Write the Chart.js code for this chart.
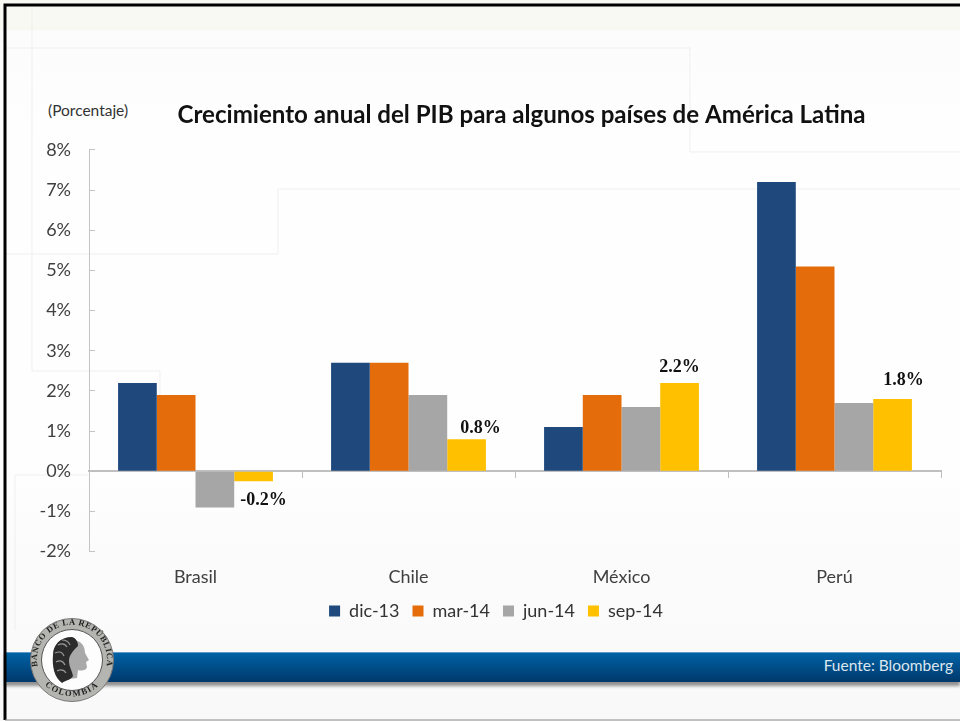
<!DOCTYPE html>
<html><head><meta charset="utf-8">
<script src="https://cdn.jsdelivr.net/npm/chart.js@4"></script>
<style>
html,body{margin:0;padding:0;background:#fff}
#page{position:relative;width:960px;height:721px;overflow:hidden;background:linear-gradient(#f9f9f4 0,#f9f9f4 30px,#fcfcfc 31px,#fefefe 140px,#fefefe 470px,#fbfbfb 560px,#f9f9f9 721px)}
#deco,#logo,#frame{position:absolute;left:0;top:0}
#chartBox{position:absolute;left:0;top:0;width:960px;height:721px}
#banner{position:absolute;left:5px;right:0;top:652px;height:30px;background:linear-gradient(#0062a5,#00386b);border-top:1px solid #5b9bc9;box-sizing:border-box;box-shadow:0 4px 3px rgba(60,60,60,.55)}
#src{position:absolute;right:7px;top:656px;font:15.5px Lato,sans-serif;color:#dbe7f0}
#unit{position:absolute;left:48px;top:101px;font:15.5px Lato,sans-serif;color:#333}
</style></head><body>
<div id="page">
<svg id="deco" width="960" height="721" fill="none" stroke="#efefef" stroke-width="1">
<path d="M5 48H690V152H960M32 5V371H160V470M5 254H278V189H960M15 630V475H89"/>
</svg>
<div id="banner"></div>
<div id="src">Fuente: Bloomberg</div>
<div id="unit">(Porcentaje)</div>
<div id="chartBox"><canvas id="c" width="960" height="721"></canvas></div>
<svg id="logo" width="960" height="721">
<defs>
<path id="arcTop" d="M38 668A35 35 0 1 1 106 668"/>
<path id="arcBot" d="M34 664A38.500 38.500 0 0 0 110 664"/>
</defs>
<circle cx="72" cy="660" r="41.500" fill="#b4b4b0" stroke="#777" stroke-width="1"/>
<circle cx="72" cy="660" r="30.500" fill="#fdfdfd" stroke="#555" stroke-width="1"/>
<text font-family="Liberation Serif" font-weight="bold" font-size="8.500" fill="#222" letter-spacing=".6"><textPath href="#arcTop" startOffset="50%" text-anchor="middle">BANCO DE LA REPÚBLICA</textPath></text>
<text font-family="Liberation Serif" font-weight="bold" font-size="8.500" fill="#222" letter-spacing="1.500"><textPath href="#arcBot" startOffset="50%" text-anchor="middle">COLOMBIA</textPath></text>
<path d="M72 640C82 640 85 647 85 653L89 660L86 662L87 667C86 671 81 671 78 670L77 678L62 680L58 668Z" fill="#a9a9a9"/>
<path d="M72 637C60 637 53 645 53 655C52 666 54 677 62 683C66 680 71 680 73 676C72 670 69 667 69 661C69 655 73 651 78 646C78 642 76 638 72 637Z" fill="#2b2b2b"/>
<path d="M58 645q6 -3 9 2M55 653q7 -3 9 3M56 662q6 -3 9 3M57 671q6 -3 9 2M62 640q6 0 8 5" fill="none" stroke="#999" stroke-width="1.200"/>
</svg>
<svg id="frame" width="960" height="721" fill="none">
<path d="M5 720V5H960" stroke="#000" stroke-width="3"/>
<path d="M5 720H960" stroke="#888" stroke-width="1"/>
</svg>
</div>
<script>
const categories = ["Brasil", "Chile", "México", "Perú"];
const dic13 = [2.2, 2.7, 1.1, 7.2];
const mar14 = [1.9, 2.7, 1.9, 5.1];
const jun14 = [-0.9, 1.9, 1.6, 1.7];
const sep14 = [-0.25, 0.8, 2.2, 1.8];
const seriesNames = ["dic-13", "mar-14", "jun-14", "sep-14"];
const seriesColors = ["#1f497d", "#e46c0a", "#a6a6a6", "#ffc000"];
const lastLabels = ["-0.2%", "0.8%", "2.2%", "1.8%"];
const chartTitle = "Crecimiento anual del PIB para algunos países de América Latina";

const labelOffsets = [[10, 19], [14, -11], [0, -16], [11, -19]];
const lastLabelsPlugin = {
  id: "lastLabels",
  afterDatasetsDraw(chart) {
    const ctx = chart.ctx, meta = chart.getDatasetMeta(3);
    ctx.save();
    ctx.font = "bold 18px 'Liberation Serif'";
    ctx.fillStyle = "#111";
    ctx.textAlign = "center";
    ctx.textBaseline = "middle";
    meta.data.forEach((bar, i) => {
      ctx.fillText(lastLabels[i], bar.x + labelOffsets[i][0], bar.y + labelOffsets[i][1]);
    });
    ctx.restore();
  }
};
const boxShift = {
  id: "boxShift",
  afterLayout(chart) {
    chart.titleBlock.left += 6.5; chart.titleBlock.right += 6.5;
    chart.legend.left += 6; chart.legend.right += 6;
  }
};

new Chart(document.getElementById("c"), {
  type: "bar",
  data: {
    labels: categories,
    datasets: [dic13, mar14, jun14, sep14].map((d, i) => ({
      label: seriesNames[i], data: d, backgroundColor: seriesColors[i],
      barPercentage: 1, categoryPercentage: 0.727
    }))
  },
  plugins: [lastLabelsPlugin, boxShift],
  options: {
    responsive: false, animation: false,
    layout: { padding: { left: 39, right: 19, top: 0, bottom: 91 } },
    plugins: {
      tooltip: { enabled: false },
      title: {
        display: true, text: chartTitle, fullSize: false,
        color: "#111", font: { family: "Lato", size: 24.1, weight: "bold", lineHeight: 1.2 },
        padding: { top: 101, bottom: 20 }
      },
      legend: {
        position: "bottom",
        title: { display: true, text: "", font: { size: 12 }, padding: { top: 23, bottom: 0 } },
        labels: { color: "#333", font: { family: "Lato", size: 18 }, boxWidth: 11, boxHeight: 11, padding: 13 }
      }
    },
    scales: {
      y: {
        min: -2, max: 8,
        afterFit(s) { s.width = 50; },
        ticks: { stepSize: 1, color: "#404040", padding: 24, font: { family: "Lato", size: 18 }, callback: v => v + "%" },
        grid: { drawOnChartArea: false, tickLength: -6, color: "#c4c4c4" },
        border: { color: "#c4c4c4", width: 1 }
      },
      x: {
        position: { y: 0 },
        ticks: { color: "#404040", padding: 89, font: { family: "Lato", size: 18 } },
        grid: { drawOnChartArea: false, tickLength: 6, color: "#bfbfbf" },
        border: { color: "#bfbfbf", width: 2 }
      }
    }
  }
});
</script>
</body></html>
